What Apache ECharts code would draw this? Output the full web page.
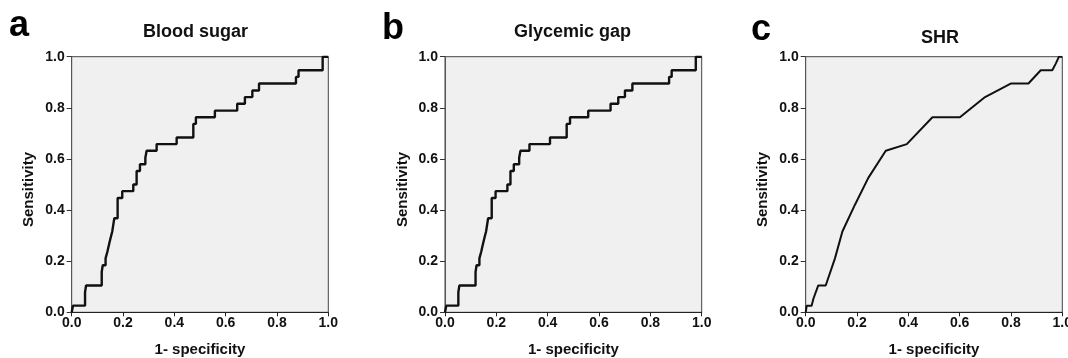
<!DOCTYPE html>
<html>
<head>
<meta charset="utf-8">
<script src="https://cdn.jsdelivr.net/npm/echarts@6/dist/echarts.min.js"></script>
<style>
  html, body { margin: 0; padding: 0; background: #fff; }
  #roc { width: 1068px; height: 358px; }
</style>
</head>
<body>
<div id="roc"></div>
<script>
const panelLetters = ['a', 'b', 'c'];
const panelTitles = ['Blood sugar', 'Glycemic gap', 'SHR'];
const axisTicks = [0, 0.2, 0.4, 0.6, 0.8, 1.0];

// (1 - specificity, sensitivity)
const sugarFpr = [0, 0.005, 0.052, 0.056, 0.117, 0.121, 0.132, 0.139, 0.145, 0.151, 0.158, 0.162, 0.166, 0.179, 0.197, 0.240, 0.253, 0.266, 0.287, 0.292, 0.331, 0.409, 0.474, 0.484, 0.558, 0.645, 0.675, 0.704, 0.730, 0.874, 0.884, 0.978, 1.0];
const sugarTpr = [0, 0.026, 0.079, 0.105, 0.158, 0.184, 0.211, 0.237, 0.263, 0.289, 0.316, 0.342, 0.368, 0.447, 0.474, 0.500, 0.553, 0.579, 0.605, 0.632, 0.658, 0.684, 0.737, 0.763, 0.789, 0.816, 0.842, 0.868, 0.895, 0.921, 0.947, 1.0, 1.0];

const gapFpr = [0, 0.005, 0.052, 0.056, 0.119, 0.123, 0.134, 0.141, 0.147, 0.153, 0.160, 0.164, 0.168, 0.182, 0.197, 0.243, 0.255, 0.268, 0.289, 0.294, 0.329, 0.409, 0.474, 0.487, 0.558, 0.645, 0.675, 0.701, 0.730, 0.873, 0.883, 0.977, 1.0];
const gapTpr = [0, 0.026, 0.079, 0.105, 0.158, 0.184, 0.211, 0.237, 0.263, 0.289, 0.316, 0.342, 0.368, 0.447, 0.474, 0.500, 0.553, 0.579, 0.605, 0.632, 0.658, 0.684, 0.737, 0.763, 0.789, 0.816, 0.842, 0.868, 0.895, 0.921, 0.947, 1.0, 1.0];

const shrFpr = [0, 0.004, 0.023, 0.030, 0.049, 0.078, 0.114, 0.143, 0.192, 0.244, 0.312, 0.394, 0.494, 0.601, 0.699, 0.799, 0.868, 0.916, 0.961, 0.975, 0.987, 1.0];
const shrTpr = [0, 0.026, 0.026, 0.053, 0.105, 0.105, 0.211, 0.316, 0.421, 0.526, 0.632, 0.658, 0.763, 0.763, 0.842, 0.895, 0.895, 0.947, 0.947, 0.974, 1.0, 1.0];

const curves = [
  { x: sugarFpr, y: sugarTpr, step: 'end' },
  { x: gapFpr, y: gapTpr, step: 'end' },
  { x: shrFpr, y: shrTpr, step: false }
];

const FONT = '"Liberation Sans", Arial, sans-serif';
const grids = [
  { left: 71.7, top: 56.7, width: 256.6, height: 255.6 },
  { left: 445, top: 56.7, width: 256.7, height: 255.6 },
  { left: 805.7, top: 56.7, width: 256.6, height: 255.6 }
];
const titleX = [190.5, 567.5, 935];
const titleTop = [18, 18, 24];
const letterX = [9, 382, 751];
const letterTop = [8, 11, 12];

const chart = echarts.init(document.getElementById('roc'), null, { renderer: 'canvas' });

const tickFmt = (v) => axisTicks.includes(Math.round(v * 10) / 10) ? v.toFixed(1) : '';

chart.setOption({
  animation: false,
  backgroundColor: '#ffffff',
  title: [
    ...panelTitles.map((t, i) => ({
      text: t,
      left: titleX[i],
      top: titleTop[i],
      textAlign: 'center',
      textStyle: { fontFamily: FONT, fontSize: 18, fontWeight: 'bold', color: '#111' }
    })),
    ...panelLetters.map((t, i) => ({
      text: t,
      left: letterX[i],
      top: letterTop[i],
      padding: 0,
      textStyle: { fontFamily: FONT, fontSize: 36, fontWeight: 'bold', color: '#000' }
    }))
  ],
  grid: grids.map(g => ({
    ...g,
    outerBoundsMode: 'none',
    containLabel: false,
    show: true,
    backgroundColor: '#f0f0f0',
    borderColor: '#444',
    borderWidth: 1
  })),
  xAxis: grids.map((_, i) => ({
    type: 'value',
    gridIndex: i,
    min: 0,
    max: 1,
    interval: 0.2,
    name: '1- specificity',
    nameLocation: 'middle',
    nameGap: 30,
    nameTextStyle: { fontFamily: FONT, fontSize: 15, fontWeight: 'bold', color: '#111' },
    axisLine: { lineStyle: { color: '#222', width: 1 } },
    axisTick: { show: true, length: 4, lineStyle: { color: '#222' } },
    axisLabel: { fontFamily: FONT, fontSize: 14, fontWeight: 'bold', color: '#111', margin: 4, formatter: tickFmt },
    splitLine: { show: false }
  })),
  yAxis: grids.map((_, i) => ({
    type: 'value',
    gridIndex: i,
    min: 0,
    max: 1,
    interval: 0.2,
    name: 'Sensitivity',
    nameLocation: 'middle',
    nameGap: 35,
    nameRotate: 90,
    nameTextStyle: { fontFamily: FONT, fontSize: 15, fontWeight: 'bold', color: '#111', padding: [0, 10, 0, 0] },
    axisLine: { lineStyle: { color: '#555', width: 1 } },
    axisTick: { show: true, length: 5, lineStyle: { color: '#333' } },
    axisLabel: { fontFamily: FONT, fontSize: 14, fontWeight: 'bold', color: '#111', margin: 7, formatter: tickFmt },
    splitLine: { show: false }
  })),
  series: curves.map((c, i) => ({
    type: 'line',
    xAxisIndex: i,
    yAxisIndex: i,
    data: c.x.map((v, k) => [v, c.y[k]]),
    step: c.step,
    showSymbol: false,
    lineStyle: { color: '#111', width: i === 2 ? 2 : 2.4 }
  }))
});
</script>
</body>
</html>
